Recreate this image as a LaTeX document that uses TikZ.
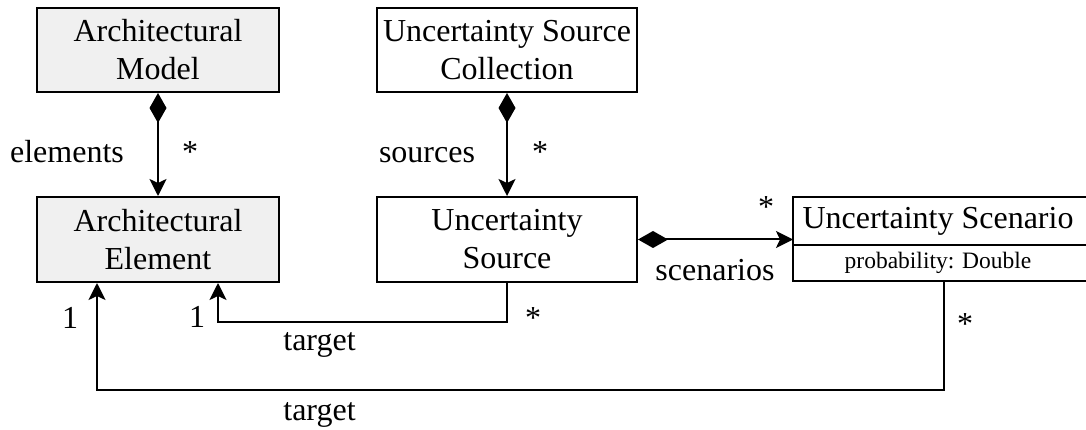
\documentclass[tikz,border=0pt]{standalone}
\usepackage{fontspec}
\setmainfont{Liberation Serif}
\usetikzlibrary{arrows.meta}
\definecolor{archfill}{HTML}{F0F0F0}
\tikzset{
  box/.style={draw, line width=2pt, inner sep=0pt, align=center,
    font=\fontsize{32}{38}\selectfont},
  archbox/.style={box, fill=archfill},
  lbl/.style={inner sep=0pt, anchor=base, font=\fontsize{32}{38}\selectfont},
  small/.style={inner sep=0pt, align=center, font=\fontsize{23.5}{28}\selectfont},
  comp/.style={line width=2pt, {Diamond[length=30pt,width=17pt]}-{Stealth[length=17pt,width=17pt,inset=4pt]}},
  arr/.style={line width=2pt, -{Stealth[length=17pt,width=17pt,inset=4pt]}},
}
\begin{document}
\begin{tikzpicture}[x=1pt,y=1pt]
\useasboundingbox (0,0) rectangle (1086,-430);
\node[archbox, minimum width=242pt, minimum height=84pt] (am) at (158,-50) {Architectural\\Model};
\node[box, minimum width=260pt, minimum height=84pt] (usc) at (507,-50) {Uncertainty Source\\Collection};
\node[archbox, minimum width=242pt, minimum height=85pt] (ae) at (158,-239.5) {Architectural\\Element};
\node[box, minimum width=260pt, minimum height=85pt] (us) at (507,-239.5) {Uncertainty\\Source};
\node[box, outer sep=0pt, minimum width=302pt, minimum height=48pt, anchor=north west] (scen) at (793,-197) {\hspace*{-12pt}Uncertainty Scenario};
\node[draw, line width=2pt, outer sep=0pt, small, minimum width=302pt, minimum height=36pt, anchor=north] (attr) at (scen.south) {\hspace*{-12pt}probability: Double};
\coordinate (c1) at (218,-322);
\coordinate (c2) at (97,-390);
\coordinate (c3) at (944,-390);
\draw[comp] (am.south) -- (ae.north);
\draw[comp] (usc.south) -- (us.north);
\draw[comp] (us.east) -- (us.east -| scen.west);
\draw[arr] (us.south) |- (c1) -- (c1 |- ae.south);
\draw[arr] (c3 |- attr.south) -- (c3) -- (c2) -- (c2 |- ae.south);
\node[lbl] (l1) at (67,-163) {elements};
\node[lbl] (l2) at (190,-163) {*};
\node[lbl] (l3) at (427,-163) {sources};
\node[lbl] (l4) at (540,-163) {*};
\node[lbl] (l5) at (715,-280) {scenarios};
\node[lbl] (l6) at (766,-218) {*};
\node[lbl] (l7) at (197,-327) {1};
\node[lbl] (l8) at (533,-328) {*};
\node[lbl] (l9) at (319.5,-350) {target};
\node[lbl] (l10) at (70,-328) {1};
\node[lbl] (l11) at (965,-334) {*};
\node[lbl] (l12) at (319.5,-420) {target};
\end{tikzpicture}
\end{document}
